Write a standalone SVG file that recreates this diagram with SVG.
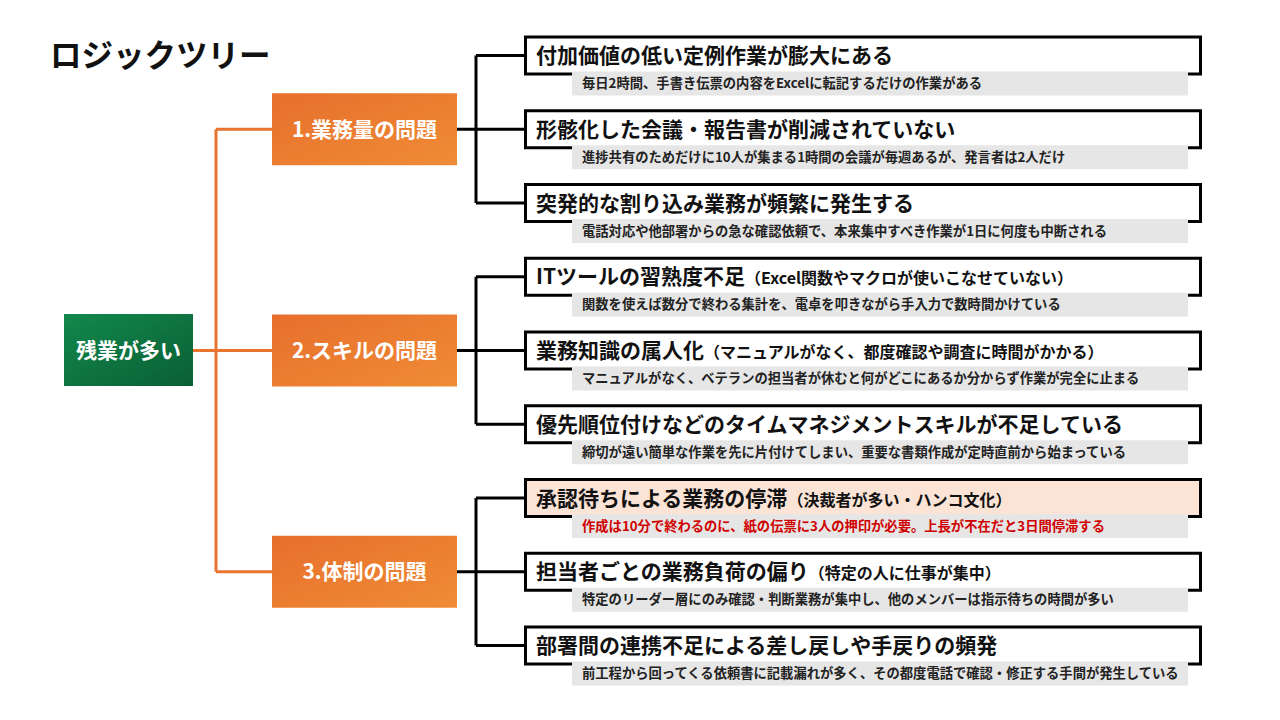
<svg xmlns="http://www.w3.org/2000/svg" width="1280" height="720" viewBox="0 0 1280 720">
<defs>
<linearGradient id="gOr" x1="0" y1="0" x2="1" y2="1"><stop offset="0" stop-color="#e76f2c"/><stop offset="1" stop-color="#ef8c36"/></linearGradient>
<linearGradient id="gGr" x1="0" y1="0" x2="1" y2="1"><stop offset="0" stop-color="#12884c"/><stop offset="1" stop-color="#0a5f35"/></linearGradient>
<style>
text{font-family:"Noto Sans CJK JP","Noto Sans",sans-serif;font-weight:bold}
.title{font-size:31.5px;fill:#111}
.cat{fill:url(#gOr)}
.catT{font-size:21px;fill:#fff;text-anchor:middle}
.box{fill:#fff;stroke:#000;stroke-width:3}
.hl{fill:#fbe3d6}
.sub{fill:#e6e6e6}
.h{font-size:21px;fill:#111}
.p{font-size:16px}
.s{font-size:13.3px;fill:#222}
.red{fill:#d00000}
.oc{fill:none;stroke:#e8742f;stroke-width:3}
.bc{fill:none;stroke:#000;stroke-width:3}
</style>
</defs>
<rect width="1280" height="720" fill="#fff"/>
<text class="title" x="50" y="67">ロジックツリー</text>
<g id="connectors">
<path class="oc" d="M193 350.5H272M216 129.25V571.75M216 129.25H272M216 571.75H272"/>
<path class="bc" d="M457 129.25H476M476 55.5V203M476 55.5H525M476 129.25H525M476 203H525"/>
<path class="bc" d="M457 350.5H476M476 276.75V424.25M476 276.75H525M476 350.5H525M476 424.25H525"/>
<path class="bc" d="M457 571.75H476M476 498V645.5M476 498H525M476 571.75H525M476 645.5H525"/>
</g>
<g id="root"><rect x="64" y="314" width="129" height="72" fill="url(#gGr)"/><text class="catT" x="128.5" y="357.5">残業が多い</text></g>
<g id="cat1"><rect class="cat" x="272" y="93.25" width="185" height="72"/><text class="catT" x="364.5" y="136.5">1.業務量の問題</text></g>
<g id="cat2"><rect class="cat" x="272" y="314.5" width="185" height="72"/><text class="catT" x="364.5" y="357.5">2.スキルの問題</text></g>
<g id="cat3"><rect class="cat" x="272" y="535.75" width="185" height="72"/><text class="catT" x="364.5" y="579">3.体制の問題</text></g>
<g id="r1"><rect class="box" x="525.5" y="37" width="675" height="37"/><rect class="sub" x="572" y="71.5" width="616" height="24"/><text class="h" x="536" y="63">付加価値の低い定例作業が膨大にある</text><text class="s" x="582" y="88">毎日2時間、手書き伝票の内容をExcelに転記するだけの作業がある</text></g>
<g id="r2"><rect class="box" x="525.5" y="110.75" width="675" height="37"/><rect class="sub" x="572" y="145.25" width="616" height="24"/><text class="h" x="536" y="136.75">形骸化した会議・報告書が削減されていない</text><text class="s" x="582" y="161.75">進捗共有のためだけに10人が集まる1時間の会議が毎週あるが、発言者は2人だけ</text></g>
<g id="r3"><rect class="box" x="525.5" y="184.5" width="675" height="37"/><rect class="sub" x="572" y="219" width="616" height="24"/><text class="h" x="536" y="210.5">突発的な割り込み業務が頻繁に発生する</text><text class="s" x="582" y="235.5">電話対応や他部署からの急な確認依頼で、本来集中すべき作業が1日に何度も中断される</text></g>
<g id="r4"><rect class="box" x="525.5" y="258.25" width="675" height="37"/><rect class="sub" x="572" y="292.75" width="616" height="24"/><text class="h" x="536" y="284.25">ITツールの習熟度不足<tspan class="p">（Excel関数やマクロが使いこなせていない）</tspan></text><text class="s" x="582" y="309.25">関数を使えば数分で終わる集計を、電卓を叩きながら手入力で数時間かけている</text></g>
<g id="r5"><rect class="box" x="525.5" y="332" width="675" height="37"/><rect class="sub" x="572" y="366.5" width="616" height="24"/><text class="h" x="536" y="358">業務知識の属人化<tspan class="p">（マニュアルがなく、都度確認や調査に時間がかかる）</tspan></text><text class="s" x="582" y="383">マニュアルがなく、ベテランの担当者が休むと何がどこにあるか分からず作業が完全に止まる</text></g>
<g id="r6"><rect class="box" x="525.5" y="405.75" width="675" height="37"/><rect class="sub" x="572" y="440.25" width="616" height="24"/><text class="h" x="536" y="431.75">優先順位付けなどのタイムマネジメントスキルが不足している</text><text class="s" x="582" y="456.75">締切が遠い簡単な作業を先に片付けてしまい、重要な書類作成が定時直前から始まっている</text></g>
<g id="r7"><rect class="box hl" x="525.5" y="479.5" width="675" height="37"/><rect class="sub" x="572" y="514" width="616" height="24"/><text class="h" x="536" y="505.5">承認待ちによる業務の停滞<tspan class="p">（決裁者が多い・ハンコ文化）</tspan></text><text class="s red" x="582" y="530.5">作成は10分で終わるのに、紙の伝票に3人の押印が必要。上長が不在だと3日間停滞する</text></g>
<g id="r8"><rect class="box" x="525.5" y="553.25" width="675" height="37"/><rect class="sub" x="572" y="587.75" width="616" height="24"/><text class="h" x="536" y="579.25">担当者ごとの業務負荷の偏り<tspan class="p">（特定の人に仕事が集中）</tspan></text><text class="s" x="582" y="604.25">特定のリーダー層にのみ確認・判断業務が集中し、他のメンバーは指示待ちの時間が多い</text></g>
<g id="r9"><rect class="box" x="525.5" y="627" width="675" height="37"/><rect class="sub" x="572" y="661.5" width="616" height="24"/><text class="h" x="536" y="653">部署間の連携不足による差し戻しや手戻りの頻発</text><text class="s" x="582" y="678">前工程から回ってくる依頼書に記載漏れが多く、その都度電話で確認・修正する手間が発生している</text></g>
</svg>
